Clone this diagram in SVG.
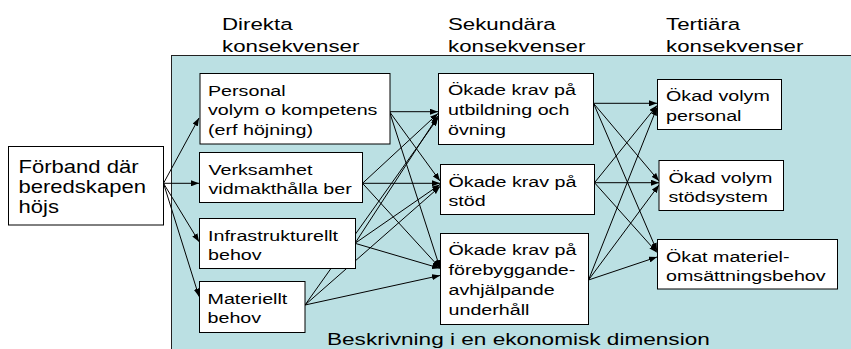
<svg xmlns="http://www.w3.org/2000/svg" width="851" height="349" viewBox="0 0 851 349">
<defs>
<style>
text{font-family:"Liberation Sans",Arial,sans-serif;fill:#000}
.h{font-size:16.5px}
.l{font-size:17.5px}
.b{font-size:15.5px}
.box{fill:#fff;stroke:#000;stroke-width:1}
.c line{stroke:#000;stroke-width:1;marker-end:url(#ah)}
</style>
<marker id="ah" markerUnits="userSpaceOnUse" markerWidth="8" markerHeight="6" refX="8" refY="3" orient="auto">
<path d="M0,0 L8,3 L0,6 z" fill="#000"/>
</marker>
</defs>
<rect id="bakgrund" x="171.5" y="55.5" width="700" height="300" fill="#BBE0E3" stroke="#222" stroke-width="1"/>
<g id="rubriker">
<text class="h" transform="translate(222,29.5) scale(1.35,1)"><tspan x="0" y="0">Direkta</tspan><tspan x="0" y="22.5">konsekvenser</tspan></text>
<text class="h" transform="translate(448,29.5) scale(1.35,1)"><tspan x="0" y="0">Sekundära</tspan><tspan x="0" y="22.5">konsekvenser</tspan></text>
<text class="h" transform="translate(666,29.5) scale(1.35,1)"><tspan x="0" y="0">Tertiära</tspan><tspan x="0" y="22.5">konsekvenser</tspan></text>
</g>
<g class="c" id="kopplingar">
<line x1="163.5" y1="183.3" x2="199" y2="118"/>
<line x1="163.5" y1="183.3" x2="199" y2="183.3"/>
<line x1="163.5" y1="183.3" x2="199" y2="241.7"/>
<line x1="163.5" y1="183.3" x2="199" y2="296.5"/>
<line x1="389.5" y1="111.7" x2="438" y2="111.7"/>
<line x1="362.5" y1="183.3" x2="438" y2="113.5"/>
<line x1="355" y1="243.3" x2="438" y2="116"/>
<line x1="305" y1="305" x2="438" y2="118"/>
<line x1="389.5" y1="111.7" x2="440" y2="181"/>
<line x1="362.5" y1="183.3" x2="440" y2="183.3"/>
<line x1="355" y1="243.3" x2="440" y2="184.5"/>
<line x1="305" y1="305" x2="440" y2="186.5"/>
<line x1="389.5" y1="111.7" x2="440" y2="268"/>
<line x1="362.5" y1="183.3" x2="440" y2="268"/>
<line x1="355" y1="243.3" x2="440" y2="268.3"/>
<line x1="305" y1="305" x2="440" y2="275.5"/>
<line x1="593.5" y1="103.3" x2="657" y2="103.3"/>
<line x1="594.5" y1="182.7" x2="657" y2="105.5"/>
<line x1="588.5" y1="280" x2="657" y2="107.5"/>
<line x1="593.5" y1="103.3" x2="659" y2="181"/>
<line x1="594.5" y1="182.7" x2="659" y2="182.7"/>
<line x1="588.5" y1="280" x2="659" y2="185"/>
<line x1="593.5" y1="103.3" x2="657" y2="251"/>
<line x1="594.5" y1="182.7" x2="657" y2="252.5"/>
<line x1="588.5" y1="280" x2="657" y2="257"/>
</g>
<g id="forband">
<rect class="box" x="8.5" y="146.5" width="155" height="78.5"/>
<text class="l" transform="translate(18.5,173.3) scale(1.26,1)"><tspan x="0" y="0">Förband där</tspan><tspan x="0" y="20">beredskapen</tspan><tspan x="0" y="40">höjs</tspan></text>
</g>
<g id="personal">
<rect class="box" x="200" y="73.5" width="190" height="70.5"/>
<text class="b" transform="translate(208,96) scale(1.27,1)"><tspan x="0" y="0">Personal</tspan><tspan x="0" y="19.5">volym o kompetens</tspan><tspan x="0" y="39">(erf höjning)</tspan></text>
</g>
<g id="verksamhet">
<rect class="box" x="199.5" y="152.5" width="163" height="50"/>
<text class="b" transform="translate(208.5,174.5) scale(1.27,1)"><tspan x="0" y="0">Verksamhet</tspan><tspan x="0" y="20">vidmakthålla ber</tspan></text>
</g>
<g id="infrastruktur">
<rect class="box" x="199.5" y="218.5" width="156" height="50"/>
<text class="b" transform="translate(208,240.5) scale(1.27,1)"><tspan x="0" y="0">Infrastrukturellt</tspan><tspan x="0" y="20">behov</tspan></text>
</g>
<g id="materiellt">
<rect class="box" x="199.5" y="281.5" width="105.5" height="51"/>
<text class="b" transform="translate(207.5,303.5) scale(1.27,1)"><tspan x="0" y="0">Materiellt</tspan><tspan x="0" y="20">behov</tspan></text>
</g>
<g id="utbildning">
<rect class="box" x="438.5" y="73.5" width="155" height="71"/>
<text class="b" transform="translate(448,94.8) scale(1.27,1)"><tspan x="0" y="0">Ökade krav på</tspan><tspan x="0" y="20.2">utbildning och</tspan><tspan x="0" y="40.4">övning</tspan></text>
</g>
<g id="stod">
<rect class="box" x="440.5" y="164.5" width="154" height="50"/>
<text class="b" transform="translate(448.5,187) scale(1.27,1)"><tspan x="0" y="0">Ökade krav på</tspan><tspan x="0" y="19.3">stöd</tspan></text>
</g>
<g id="underhall">
<rect class="box" x="440.5" y="233.5" width="148" height="91"/>
<text class="b" transform="translate(448.5,255.3) scale(1.27,1)"><tspan x="0" y="0">Ökade krav på</tspan><tspan x="0" y="20">förebyggande-</tspan><tspan x="0" y="40">avhjälpande</tspan><tspan x="0" y="60">underhåll</tspan></text>
</g>
<g id="volym-personal">
<rect class="box" x="657.5" y="79.5" width="124" height="50"/>
<text class="b" transform="translate(666,101) scale(1.27,1)"><tspan x="0" y="0">Ökad volym</tspan><tspan x="0" y="20">personal</tspan></text>
</g>
<g id="volym-stodsystem">
<rect class="box" x="659" y="160.5" width="124.5" height="50"/>
<text class="b" transform="translate(668.5,182.5) scale(1.27,1)"><tspan x="0" y="0">Ökad volym</tspan><tspan x="0" y="19.3">stödsystem</tspan></text>
</g>
<g id="omsattning">
<rect class="box" x="657.5" y="239.5" width="180" height="49.5"/>
<text class="b" transform="translate(666,261.7) scale(1.27,1)"><tspan x="0" y="0">Ökat materiel-</tspan><tspan x="0" y="19.5">omsättningsbehov</tspan></text>
</g>
<text id="beskrivning" class="h" transform="translate(327,344.5) scale(1.37,1)">Beskrivning i en ekonomisk dimension</text>
</svg>
